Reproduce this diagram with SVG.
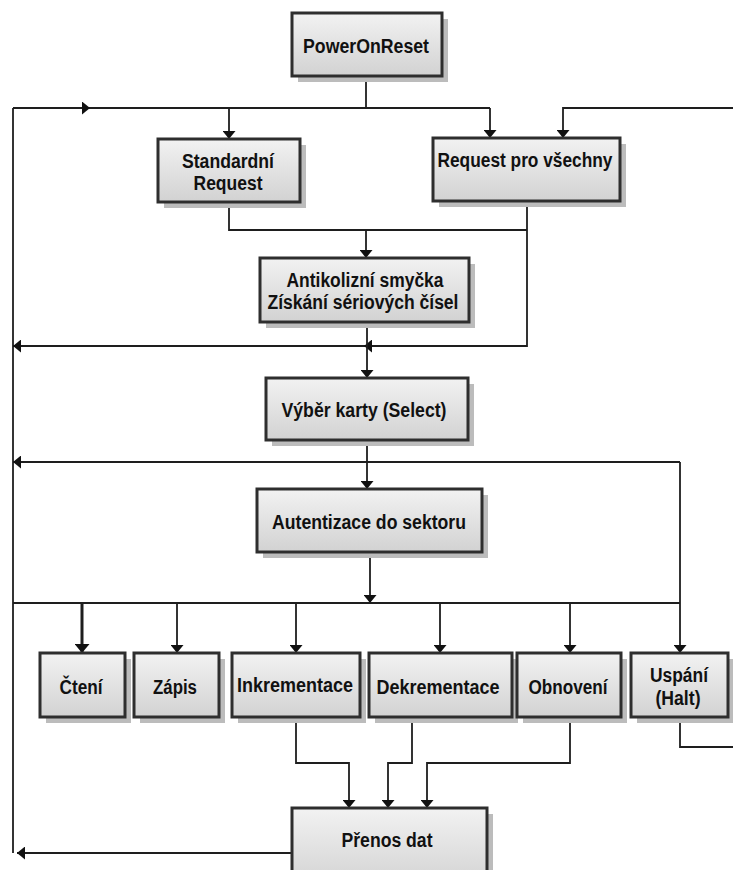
<svg xmlns="http://www.w3.org/2000/svg" width="733" height="870" viewBox="0 0 733 870">
  <style>
    .box { fill: url(#boxFill); stroke: #2e2e2e; stroke-width: 3; }
    .shadow { fill: #bcbcbc; }
    .lbl { font-family: "Liberation Sans", Arial, sans-serif; font-weight: bold; font-size: 20px; fill: #111; text-anchor: middle; }
    .wire { fill: none; stroke: #1e1e1e; stroke-width: 1.8; }
    .arrow { fill: none; stroke: #1e1e1e; stroke-width: 1.8; marker-end: url(#head); }
    .thick { fill: none; stroke: #1e1e1e; stroke-width: 3; marker-end: url(#headBig); }
  </style>
  <defs>
    <linearGradient id="boxFill" x1="0" y1="0" x2="0" y2="1">
      <stop offset="0" stop-color="#f2f2f2"/>
      <stop offset="1" stop-color="#d2d2d2"/>
    </linearGradient>
    <marker id="head" viewBox="0 0 8 13" refX="8" refY="6.5" markerWidth="8" markerHeight="13" markerUnits="userSpaceOnUse" orient="auto">
      <path d="M0,0 L8,6.5 L0,13 z" fill="#111"/>
    </marker>
    <marker id="headBig" viewBox="0 0 9 15" refX="9" refY="7.5" markerWidth="9" markerHeight="15" markerUnits="userSpaceOnUse" orient="auto">
      <path d="M0,0 L9,7.5 L0,15 z" fill="#111"/>
    </marker>
  </defs>

  <rect width="733" height="870" fill="#fff"/>

  <!-- connectors -->
  <g id="connectors">
    <!-- reset to both request types -->
    <path class="wire" d="M366,76 V108"/>
    <path class="wire" d="M13,108 H490"/>
    <path class="arrow" d="M80,108 H90"/>
    <path class="arrow" d="M229,108 V139"/>
    <path class="arrow" d="M490,108 V138"/>
    <path class="arrow" d="M733,108 H563 V138"/>
    <!-- return bus on the left -->
    <path class="wire" d="M13,108 V853"/>
    <!-- requests into anticollision loop -->
    <path class="wire" d="M229,202 V230 H527"/>
    <path class="wire" d="M527,201 V346 H13"/>
    <path class="arrow" d="M366,230 V258"/>
    <path class="arrow" d="M24,346 H13"/>
    <path class="arrow" d="M376,346 H364"/>
    <!-- anticollision to select -->
    <path class="arrow" d="M367,322 V378"/>
    <!-- select to authentication -->
    <path class="arrow" d="M367,440 V489"/>
    <path class="wire" d="M13,462 H680"/>
    <path class="arrow" d="M24,462 H13"/>
    <path class="arrow" d="M680,462 V653"/>
    <!-- authentication to operations -->
    <path class="arrow" d="M370,552 V603"/>
    <path class="wire" d="M13,603 H680"/>
    <path class="thick" d="M82,603 V653"/>
    <path class="arrow" d="M177,603 V653"/>
    <path class="arrow" d="M296,603 V653"/>
    <path class="arrow" d="M440,603 V653"/>
    <path class="arrow" d="M570,603 V653"/>
    <!-- operations to data transfer -->
    <path class="arrow" d="M296,717 V763 H349 V808"/>
    <path class="arrow" d="M412,717 V763 H388 V808"/>
    <path class="arrow" d="M570,717 V763 H427 V808"/>
    <path class="wire" d="M680,717 V747 H733"/>
    <path class="arrow" d="M292,853 H17"/>
  </g>

  <g id="power-on-reset">
    <rect class="shadow" x="298" y="19" width="150" height="63"/>
    <rect class="box" x="292" y="13" width="150" height="63"/>
    <text class="lbl" x="366" y="53" textLength="126" lengthAdjust="spacingAndGlyphs">PowerOnReset</text>
  </g>

  <g id="standard-request">
    <rect class="shadow" x="164" y="145" width="142" height="63"/>
    <rect class="box" x="158" y="139" width="142" height="63"/>
    <text class="lbl" x="228" y="168" textLength="92" lengthAdjust="spacingAndGlyphs">Standardní</text>
    <text class="lbl" x="228" y="190" textLength="69" lengthAdjust="spacingAndGlyphs">Request</text>
  </g>

  <g id="request-all">
    <rect class="shadow" x="439" y="144" width="187" height="63"/>
    <rect class="box" x="433" y="138" width="187" height="63"/>
    <text class="lbl" x="525" y="167" textLength="175" lengthAdjust="spacingAndGlyphs">Request pro všechny</text>
  </g>

  <g id="anticollision">
    <rect class="shadow" x="266" y="264" width="209" height="64"/>
    <rect class="box" x="260" y="258" width="209" height="64"/>
    <text class="lbl" x="365" y="287" textLength="157" lengthAdjust="spacingAndGlyphs">Antikolizní smyčka</text>
    <text class="lbl" x="363" y="309" textLength="191" lengthAdjust="spacingAndGlyphs">Získání sériových čísel</text>
  </g>

  <g id="select-card">
    <rect class="shadow" x="272" y="384" width="202" height="62"/>
    <rect class="box" x="266" y="378" width="202" height="62"/>
    <text class="lbl" x="364" y="417" textLength="165" lengthAdjust="spacingAndGlyphs">Výběr karty (Select)</text>
  </g>

  <g id="authentication">
    <rect class="shadow" x="263" y="495" width="225" height="63"/>
    <rect class="box" x="257" y="489" width="225" height="63"/>
    <text class="lbl" x="369" y="529" textLength="194" lengthAdjust="spacingAndGlyphs">Autentizace do sektoru</text>
  </g>

  <g id="read">
    <rect class="shadow" x="46" y="659" width="85" height="64"/>
    <rect class="box" x="40" y="653" width="85" height="64"/>
    <text class="lbl" x="81" y="694" textLength="43" lengthAdjust="spacingAndGlyphs">Čtení</text>
  </g>

  <g id="write">
    <rect class="shadow" x="140" y="659" width="85" height="64"/>
    <rect class="box" x="134" y="653" width="85" height="64"/>
    <text class="lbl" x="175" y="694" textLength="44" lengthAdjust="spacingAndGlyphs">Zápis</text>
  </g>

  <g id="increment">
    <rect class="shadow" x="238" y="659" width="128" height="64"/>
    <rect class="box" x="232" y="653" width="128" height="64"/>
    <text class="lbl" x="295" y="692" textLength="116" lengthAdjust="spacingAndGlyphs">Inkrementace</text>
  </g>

  <g id="decrement">
    <rect class="shadow" x="375" y="659" width="143" height="64"/>
    <rect class="box" x="369" y="653" width="143" height="64"/>
    <text class="lbl" x="438" y="694" textLength="123" lengthAdjust="spacingAndGlyphs">Dekrementace</text>
  </g>

  <g id="restore">
    <rect class="shadow" x="523" y="659" width="104" height="64"/>
    <rect class="box" x="517" y="653" width="104" height="64"/>
    <text class="lbl" x="568" y="694" textLength="79" lengthAdjust="spacingAndGlyphs">Obnovení</text>
  </g>

  <g id="halt">
    <rect class="shadow" x="637" y="659" width="97" height="64"/>
    <rect class="box" x="631" y="653" width="97" height="64"/>
    <text class="lbl" x="679" y="682" textLength="58" lengthAdjust="spacingAndGlyphs">Uspání</text>
    <text class="lbl" x="678" y="705" textLength="45" lengthAdjust="spacingAndGlyphs">(Halt)</text>
  </g>

  <g id="data-transfer">
    <rect class="shadow" x="298" y="814" width="195" height="80"/>
    <rect class="box" x="292" y="808" width="195" height="80"/>
    <text class="lbl" x="387" y="847" textLength="91" lengthAdjust="spacingAndGlyphs">Přenos dat</text>
  </g>
</svg>
